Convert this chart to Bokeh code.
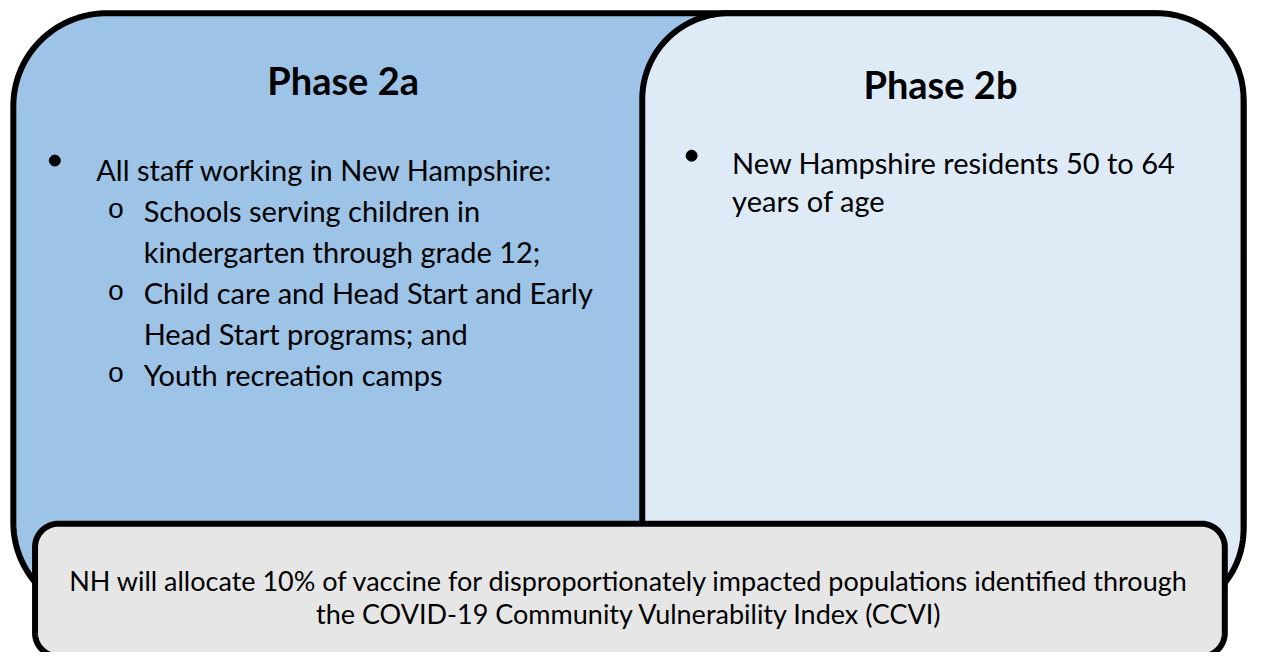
import numpy as np
from bokeh.plotting import figure
from bokeh.models import Range1d
from bokeh.core.properties import value
from bokeh.embed import file_html
from bokeh.resources import INLINE

# ---- content ----
titles = ["Phase 2a", "Phase 2b"]
left_main = ["All staff working in New Hampshire:"]
left_sub = [
    ["Schools serving children in", "kindergarten through grade 12;"],
    ["Child care and Head Start and Early", "Head Start programs; and"],
    ["Youth recreation camps"],
]
right_lines = ["New Hampshire residents 50 to 64", "years of age"]
footer_lines = [
    "NH will allocate 10% of vaccine for disproportionately impacted populations identified through",
    "the COVID-19 Community Vulnerability Index (CCVI)",
]

FONT = "Lato"

# ---- layout: data coords are reference-image pixels (1263 x 668) ----
W, H = 1247, 652
p = figure(width=W, height=H, output_backend="svg", toolbar_location=None,
           x_range=Range1d(0, 1263), y_range=Range1d(668, 0),
           x_axis_location=None, y_axis_location=None, min_border=0,
           outline_line_color=None, background_fill_color="white",
           border_fill_color="white")
p.xgrid.visible = False
p.ygrid.visible = False


def rrect(x0, y0, x1, y1, r, n=40):
    xs, ys = [], []
    corners = [
        (x1 - r, y0 + r, -np.pi / 2, 0),
        (x1 - r, y1 - r, 0, np.pi / 2),
        (x0 + r, y1 - r, np.pi / 2, np.pi),
        (x0 + r, y0 + r, np.pi, 1.5 * np.pi),
    ]
    for cx, cy, a0, a1 in corners:
        t = np.linspace(a0, a1, n)
        xs.extend(cx + r * np.cos(t))
        ys.extend(cy + r * np.sin(t))
    return xs, ys


boxes = [
    (13, 13, 1259, 630, 95, "#9dc3e6", 6),
    (650, 13, 1259, 630, 88, "#deebf7", 6),
    (35, 536, 1240, 672, 24, "#e7e6e6", 6),
]
for x0, y0, x1, y1, r, fc, lw in boxes:
    xs, ys = rrect(x0, y0, x1, y1, r)
    p.patch(xs, ys, fill_color=fc, line_color="black", line_width=lw,
            line_join="round")

# titles
p.text(x=[347, 952], y=[81, 86], text=titles, text_font=value(FONT),
       text_font_size="38px", text_font_style="bold", text_align="center",
       text_baseline="alphabetic", text_color="black")

BODY = "29px"
# left main bullet
p.scatter(x=[55], y=[164], size=11, marker="circle", fill_color="black",
          line_color="black")
p.text(x=[97], y=[173], text=left_main, text_font=value(FONT),
       text_font_size=BODY, text_align="left", text_baseline="alphabetic")

# left sub bullets
base = 215
step = 42
sub_x, sub_y, sub_t, o_y = [], [], [], []
row = 0
for item in left_sub:
    o_y.append(base + row * step)
    for line in item:
        sub_x.append(145)
        sub_y.append(base + row * step)
        sub_t.append(line)
        row += 1
p.text(x=[117] * len(o_y), y=o_y, text=["o"] * len(o_y),
       text_font=value("Liberation Mono"), text_font_size="28px",
       text_align="center", text_baseline="alphabetic")
p.text(x=sub_x, y=sub_y, text=sub_t, text_font=value(FONT),
       text_font_size=BODY, text_align="left", text_baseline="alphabetic")

# right bullet
p.scatter(x=[700], y=[159], size=11, marker="circle", fill_color="black",
          line_color="black")
p.text(x=[741] * len(right_lines), y=[166, 205], text=right_lines,
       text_font=value(FONT), text_font_size=BODY, text_align="left",
       text_baseline="alphabetic")

# footer
p.text(x=[637] * len(footer_lines), y=[594, 628], text=footer_lines,
       text_font=value(FONT), text_font_size="27px", text_align="center",
       text_baseline="alphabetic")

open("out.html", "w").write(file_html(p, INLINE))
